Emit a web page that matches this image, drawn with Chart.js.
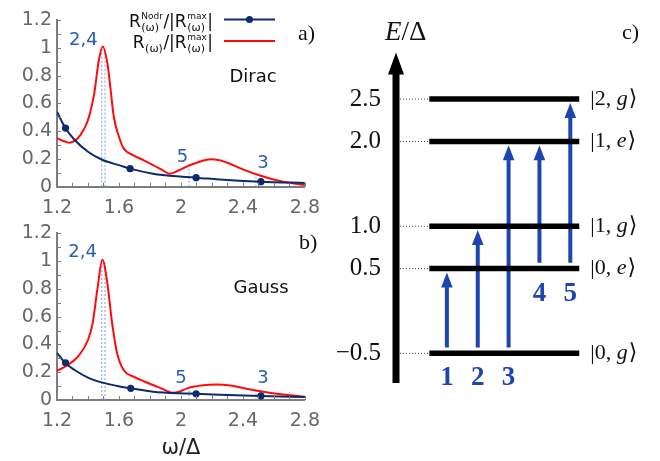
<!DOCTYPE html>
<html>
<head>
<meta charset="utf-8">
<script src="https://cdn.jsdelivr.net/npm/chart.js@4.4.1/dist/chart.umd.min.js"></script>
<style>
html,body{margin:0;padding:0;background:#fff;}
#wrap{position:relative;width:660px;height:461px;overflow:hidden;}
canvas{position:absolute;display:block;}
</style>
</head>
<body>
<div id="wrap">
  <canvas id="ca" width="330" height="215" style="left:0;top:0"></canvas>
  <canvas id="cb" width="330" height="246" style="left:0;top:215px"></canvas>
  <canvas id="cc" width="330" height="461" style="left:330px;top:0"></canvas>
</div>
<script>
// ---------------- data: spectra (panels a, b) ----------------
const spectrumXTicks = [1.2, 1.6, 2.0, 2.4, 2.8];
const spectrumXLabels = ['1.2', '1.6', '2', '2.4', '2.8'];
const spectrumYTicks = [0, 0.2, 0.4, 0.6, 0.8, 1.0, 1.2];
const spectrumYLabels = ['0', '0.2', '0.4', '0.6', '0.8', '1', '1.2'];

// (a) Dirac
const diracDrivenX = [1.2, 1.25, 1.28, 1.32, 1.35, 1.40, 1.44, 1.47, 1.495, 1.525, 1.546, 1.567, 1.60, 1.63, 1.69, 1.76, 1.82, 1.88, 1.925, 1.98, 2.06, 2.12, 2.19, 2.25, 2.30, 2.40, 2.50, 2.61, 2.72, 2.8];
const diracDrivenY = [0.35, 0.325, 0.317, 0.335, 0.37, 0.48, 0.67, 0.91, 1.01, 0.89, 0.70, 0.50, 0.36, 0.276, 0.228, 0.19, 0.156, 0.12, 0.093, 0.115, 0.156, 0.18, 0.198, 0.19, 0.172, 0.125, 0.084, 0.048, 0.024, 0.012];
const diracNodrX = [1.2, 1.25, 1.314, 1.40, 1.495, 1.61, 1.672, 1.82, 2.01, 2.098, 2.3, 2.516, 2.8];
const diracNodrY = [0.54, 0.43, 0.336, 0.252, 0.192, 0.152, 0.13, 0.094, 0.072, 0.065, 0.048, 0.036, 0.027];
const diracMarkX = [1.255, 1.672, 2.098, 2.516];
const diracMarkY = [0.422, 0.13, 0.065, 0.036];
const diracGuideX = [1.489, 1.51, 2.052, 2.484];
const diracGuideTop = [0.99, 0.99, 0.156, 0.09];
const diracPeakNames = ['2,4', '5', '3'];
const diracPeakLabelX = [1.37, 2.01, 2.53];
const diracPeakLabelY = [1.055, 0.215, 0.17];

// (b) Gauss
const gaussDrivenX = [1.2, 1.27, 1.335, 1.40, 1.43, 1.461, 1.493, 1.525, 1.556, 1.588, 1.63, 1.694, 1.76, 1.82, 1.88, 1.946, 1.99, 2.04, 2.13, 2.23, 2.32, 2.40, 2.53, 2.66, 2.8];
const gaussDrivenY = [0.21, 0.252, 0.312, 0.432, 0.552, 0.80, 1.01, 0.84, 0.552, 0.336, 0.216, 0.168, 0.135, 0.108, 0.08, 0.053, 0.06, 0.084, 0.104, 0.112, 0.104, 0.086, 0.06, 0.04, 0.024];
const gaussNodrX = [1.2, 1.25, 1.314, 1.40, 1.493, 1.61, 1.676, 1.82, 1.99, 2.098, 2.3, 2.516, 2.8];
const gaussNodrY = [0.34, 0.27, 0.216, 0.161, 0.125, 0.096, 0.084, 0.06, 0.048, 0.045, 0.036, 0.029, 0.022];
const gaussMarkX = [1.255, 1.676, 2.098, 2.516];
const gaussMarkY = [0.268, 0.084, 0.045, 0.029];
const gaussGuideX = [1.489, 1.51, 2.052, 2.484];
const gaussGuideTop = [0.99, 0.99, 0.085, 0.066];
const gaussPeakNames = ['2,4', '5', '3'];
const gaussPeakLabelX = [1.365, 2.0, 2.53];
const gaussPeakLabelY = [1.066, 0.158, 0.158];

// ---------------- data: level diagram (panel c) ----------------
const energyLevels = [-0.5, 0.5, 1.0, 2.0, 2.5];
const energyTickLabels = ['\u22120.5', '0.5', '1.0', '2.0', '2.5'];
const stateNumbers = ['0', '0', '1', '1', '2'];
const stateLetters = ['g', 'e', 'g', 'e', 'g'];
const transitionNames = ['1', '2', '3', '4', '5'];
const transitionFrom = [-0.5, -0.5, -0.5, 0.5, 0.5];
const transitionTo = [0.5, 1.0, 2.0, 2.0, 2.5];

// ---------------- styles ----------------
const NAVY = '#0d2a6c', RED = '#ff0a0a', GUIDE = '#7f9be0', LBLUE = '#2a5cb8';
const AXIS = '#7d7d7d', TICKTXT = '#676767', ARROW = '#1e44b0';
const SANS = "'DejaVu Sans', sans-serif";
const SERIF = "'Liberation Serif', 'DejaVu Serif', serif";

function pts(xs, ys) { return xs.map((x, i) => ({x: x, y: ys[i]})); }

function drawRich(ctx, parts, xRight, yBase) {
  const big = '17px ' + SANS, sub = '11px ' + SANS, sup = '9px ' + SANS;
  let w = 0;
  parts.forEach(p => {
    if (p.t) { ctx.font = big; w += ctx.measureText(p.t).width; }
    else {
      ctx.font = sub; let a = ctx.measureText(p.sub).width;
      let b = 0; if (p.sup) { ctx.font = sup; b = ctx.measureText(p.sup).width; }
      w += Math.max(a, b) + 1;
    }
  });
  let x = xRight - w;
  ctx.textAlign = 'left'; ctx.textBaseline = 'alphabetic';
  parts.forEach(p => {
    if (p.t) { ctx.font = big; ctx.fillText(p.t, x, yBase); x += ctx.measureText(p.t).width; }
    else {
      ctx.font = sub; ctx.fillText(p.sub, x + 0.5, yBase + 4); let a = ctx.measureText(p.sub).width;
      let b = 0;
      if (p.sup) { ctx.font = sup; ctx.fillText(p.sup, x + 0.5, yBase - 8); b = ctx.measureText(p.sup).width; }
      x += Math.max(a, b) + 1;
    }
  });
}

function spectrumChart(id, cfg) {
  const guides = cfg.guideX.map((x, i) => ({
    label: 'guide' + i,
    data: [{x: x, y: 0}, {x: x, y: cfg.guideTop[i]}],
    borderColor: GUIDE, borderWidth: 1, borderDash: [2, 2], pointRadius: 0
  }));
  const deco = {
    id: 'deco' + id,
    afterDraw(chart) {
      const {ctx, chartArea: a, scales: {x: xs, y: ys}} = chart;
      ctx.save();
      // inward minor ticks
      ctx.strokeStyle = AXIS; ctx.lineWidth = 1;
      ctx.beginPath();
      for (let k = 0; k <= 16; k++) {
        const px = Math.round(xs.getPixelForValue(1.2 + k * 0.1)) + 0.5;
        ctx.moveTo(px, a.bottom); ctx.lineTo(px, a.bottom - 4);
      }
      for (let k = 0; k <= 12; k++) {
        const py = Math.round(ys.getPixelForValue(k * 0.1)) + 0.5;
        ctx.moveTo(a.left, py); ctx.lineTo(a.left + 4, py);
      }
      ctx.stroke();
      // peak labels
      ctx.fillStyle = LBLUE; ctx.font = '18px ' + SANS;
      ctx.textAlign = 'center'; ctx.textBaseline = 'middle';
      cfg.peakNames.forEach((n, i) => {
        ctx.fillText(n, xs.getPixelForValue(cfg.peakLabelX[i]), ys.getPixelForValue(cfg.peakLabelY[i]));
      });
      // model name
      ctx.fillStyle = '#111'; ctx.font = '18px ' + SANS;
      ctx.fillText(cfg.model, cfg.modelPos[0], cfg.modelPos[1]);
      // panel letter
      ctx.font = '22px ' + SERIF; ctx.textAlign = 'left';
      ctx.fillText(cfg.panel, cfg.panelPos[0], cfg.panelPos[1]);
      // legend
      if (cfg.legend) {
        ctx.fillStyle = '#111';
        drawRich(ctx, [{t: 'R'}, {sub: '(\u03c9)', sup: 'Nodr'}, {t: '/|R'}, {sub: '(\u03c9)', sup: 'max'}, {t: '|'}], 213, 27);
        drawRich(ctx, [{t: 'R'}, {sub: '(\u03c9)'}, {t: '/|R'}, {sub: '(\u03c9)', sup: 'max'}, {t: '|'}], 213, 48);
        ctx.lineWidth = 2;
        ctx.strokeStyle = NAVY; ctx.beginPath(); ctx.moveTo(224, 19.5); ctx.lineTo(275, 19.5); ctx.stroke();
        ctx.fillStyle = NAVY; ctx.beginPath(); ctx.arc(249.5, 19.5, 3.5, 0, Math.PI * 2); ctx.fill();
        ctx.strokeStyle = RED; ctx.beginPath(); ctx.moveTo(224, 41); ctx.lineTo(275, 41); ctx.stroke();
      }
      ctx.restore();
    }
  };
  return new Chart(document.getElementById(id), {
    type: 'line',
    data: {datasets: [
      {label: 'markers', data: pts(cfg.markX, cfg.markY), showLine: false, pointRadius: 3.6, pointHoverRadius: 3.6,
       pointBackgroundColor: NAVY, pointBorderColor: NAVY, pointBorderWidth: 0},
      {label: 'nodr', data: pts(cfg.nodrX, cfg.nodrY), borderColor: NAVY, borderWidth: 2, pointRadius: 0,
       cubicInterpolationMode: 'monotone'},
      {label: 'driven', data: pts(cfg.drX, cfg.drY), borderColor: RED, borderWidth: 2, pointRadius: 0,
       cubicInterpolationMode: 'monotone'},
      ...guides
    ]},
    options: {
      responsive: false, animation: false, devicePixelRatio: 1,
      layout: {padding: {top: cfg.padTop, right: 20, left: 0, bottom: 0}},
      plugins: {legend: {display: false}, tooltip: {enabled: false}},
      scales: {
        x: {
          type: 'linear', min: 1.2, max: 2.8,
          afterBuildTicks: s => { s.ticks = spectrumXTicks.map(v => ({value: v})); },
          afterFit: s => { s.height = cfg.xAxisH; },
          grid: {display: false, drawTicks: false},
          border: {display: true, color: AXIS, width: 2},
          ticks: {color: TICKTXT, font: {family: SANS, size: 19}, padding: 10, autoSkip: false, maxRotation: 0,
                  callback: (v, i) => spectrumXLabels[i]},
          title: cfg.xTitle ? {display: true, text: cfg.xTitle, color: '#222', font: {family: SANS, size: 21},
                               padding: {top: 0, bottom: 0}} : {display: false}
        },
        y: {
          type: 'linear', min: 0, max: 1.2,
          afterBuildTicks: s => { s.ticks = spectrumYTicks.map(v => ({value: v})); },
          afterFit: s => { s.width = 57; },
          grid: {display: false, drawTicks: false},
          border: {display: true, color: AXIS, width: 2},
          ticks: {color: TICKTXT, font: {family: SANS, size: 19}, padding: 5, autoSkip: false,
                  callback: (v, i) => spectrumYLabels[i]}
        }
      }
    },
    plugins: [deco]
  });
}

spectrumChart('ca', {
  drX: diracDrivenX, drY: diracDrivenY, nodrX: diracNodrX, nodrY: diracNodrY,
  markX: diracMarkX, markY: diracMarkY, guideX: diracGuideX, guideTop: diracGuideTop,
  peakNames: diracPeakNames, peakLabelX: diracPeakLabelX, peakLabelY: diracPeakLabelY,
  model: 'Dirac', modelPos: [253, 77], panel: 'a)', panelPos: [298, 34], legend: true,
  padTop: 20, xAxisH: 28.3, xTitle: null
});
spectrumChart('cb', {
  drX: gaussDrivenX, drY: gaussDrivenY, nodrX: gaussNodrX, nodrY: gaussNodrY,
  markX: gaussMarkX, markY: gaussMarkY, guideX: gaussGuideX, guideTop: gaussGuideTop,
  peakNames: gaussPeakNames, peakLabelX: gaussPeakLabelX, peakLabelY: gaussPeakLabelY,
  model: 'Gauss', modelPos: [261, 73], panel: 'b)', panelPos: [299, 28], legend: false,
  padTop: 18.3, xAxisH: 61, xTitle: '\u03c9/\u0394'
});

// ---------------- panel c: level diagram ----------------
const LEVEL_X0 = 0.43, LEVEL_X1_PAD = 0.29, GUIDE_X0 = -0.52;
const START_GAP = 0.07, TIP_GAP = 0.045, HEAD_LEN = 15, HEAD_HALF = 5.8;
const nT = transitionNames.length;
const LEVEL_X1 = nT + LEVEL_X1_PAD;

const levelSets = energyLevels.map((e, i) => ({
  label: 'level' + i, data: [{x: LEVEL_X0, y: e}, {x: LEVEL_X1, y: e}],
  borderColor: '#000', borderWidth: 5.5, pointRadius: 0, borderCapStyle: 'butt'
}));
const dotSets = energyLevels.map((e, i) => ({
  label: 'dots' + i, data: [{x: GUIDE_X0, y: e}, {x: LEVEL_X0, y: e}],
  borderColor: '#444', borderWidth: 1, borderDash: [1, 2], pointRadius: 0
}));
const arrowSets = transitionNames.map((n, i) => ({
  label: 'transition ' + n, data: [{x: i + 1, y: transitionFrom[i] + START_GAP}, {x: i + 1, y: transitionTo[i] - TIP_GAP}],
  borderColor: ARROW, borderWidth: 4, pointRadius: 0, borderCapStyle: 'butt'
}));
const ARROW_START = levelSets.length + dotSets.length;

const diagramPlugin = {
  id: 'diagram',
  afterDatasetsUpdate(chart) {
    const ys = chart.scales.y;
    transitionTo.forEach((to, i) => {
      const meta = chart.getDatasetMeta(ARROW_START + i);
      meta.data[1].y = ys.getPixelForValue(to - TIP_GAP) + HEAD_LEN - 1;
    });
  },
  afterDraw(chart) {
    const {ctx, chartArea: a, scales: {x: xs, y: ys}} = chart;
    ctx.save();
    // energy axis arrow
    ctx.fillStyle = '#000';
    const ax = a.left;
    ctx.fillRect(ax - 3.5, a.top + 20, 7, a.bottom - a.top - 20);
    ctx.beginPath(); ctx.moveTo(ax, a.top); ctx.lineTo(ax + 8, a.top + 22); ctx.lineTo(ax - 8, a.top + 22); ctx.closePath(); ctx.fill();
    // transition arrowheads and labels
    ctx.fillStyle = ARROW;
    transitionNames.forEach((n, i) => {
      const px = xs.getPixelForValue(i + 1);
      const tip = ys.getPixelForValue(transitionTo[i] - TIP_GAP);
      ctx.beginPath(); ctx.moveTo(px, tip); ctx.lineTo(px + HEAD_HALF, tip + HEAD_LEN); ctx.lineTo(px - HEAD_HALF, tip + HEAD_LEN); ctx.closePath(); ctx.fill();
    });
    ctx.font = 'bold 27px ' + SERIF; ctx.textAlign = 'center'; ctx.textBaseline = 'middle';
    transitionNames.forEach((n, i) => {
      ctx.fillText(n, xs.getPixelForValue(i + 1), ys.getPixelForValue(transitionFrom[i]) + 25);
    });
    // state labels
    ctx.fillStyle = '#111'; ctx.textAlign = 'left'; ctx.textBaseline = 'middle';
    const lx = xs.getPixelForValue(LEVEL_X1) + 11;
    energyLevels.forEach((e, i) => {
      const py = ys.getPixelForValue(e);
      let x = lx;
      ctx.font = '22px ' + SERIF;
      const s1 = '|' + stateNumbers[i] + ', ';
      ctx.fillText(s1, x, py); x += ctx.measureText(s1).width;
      ctx.font = 'italic 22px ' + SERIF;
      ctx.fillText(stateLetters[i], x, py); x += ctx.measureText(stateLetters[i]).width + 1;
      ctx.font = '22px ' + SERIF;
      ctx.fillText('\u27e9', x, py);
    });
    // axis title and panel letter
    let x = a.left - 11;
    ctx.font = 'italic 27px ' + SERIF; ctx.fillText('E', x, 33); x += ctx.measureText('E').width;
    ctx.font = '27px ' + SERIF; ctx.fillText('/\u0394', x, 33);
    ctx.font = '22px ' + SERIF; ctx.fillText('c)', 292, 33);
    ctx.restore();
  }
};

new Chart(document.getElementById('cc'), {
  type: 'line',
  data: {datasets: [...levelSets, ...dotSets, ...arrowSets]},
  options: {
    responsive: false, animation: false, devicePixelRatio: 1,
    layout: {padding: {top: 52.5, bottom: 78, right: 28, left: 0}},
    plugins: {legend: {display: false}, tooltip: {enabled: false}},
    scales: {
      x: {type: 'linear', display: false, min: -0.65, max: 7.0},
      y: {
        type: 'linear', min: -0.85, max: 3.05,
        afterBuildTicks: s => { s.ticks = energyLevels.map(v => ({value: v})); },
        afterFit: s => { s.width = 66; },
        grid: {display: false, drawTicks: false},
        border: {display: false},
        ticks: {color: '#111', font: {family: SERIF, size: 25}, padding: 15, autoSkip: false,
                callback: (v) => energyTickLabels[energyLevels.indexOf(v)]}
      }
    }
  },
  plugins: [diagramPlugin]
});
</script>
</body>
</html>
